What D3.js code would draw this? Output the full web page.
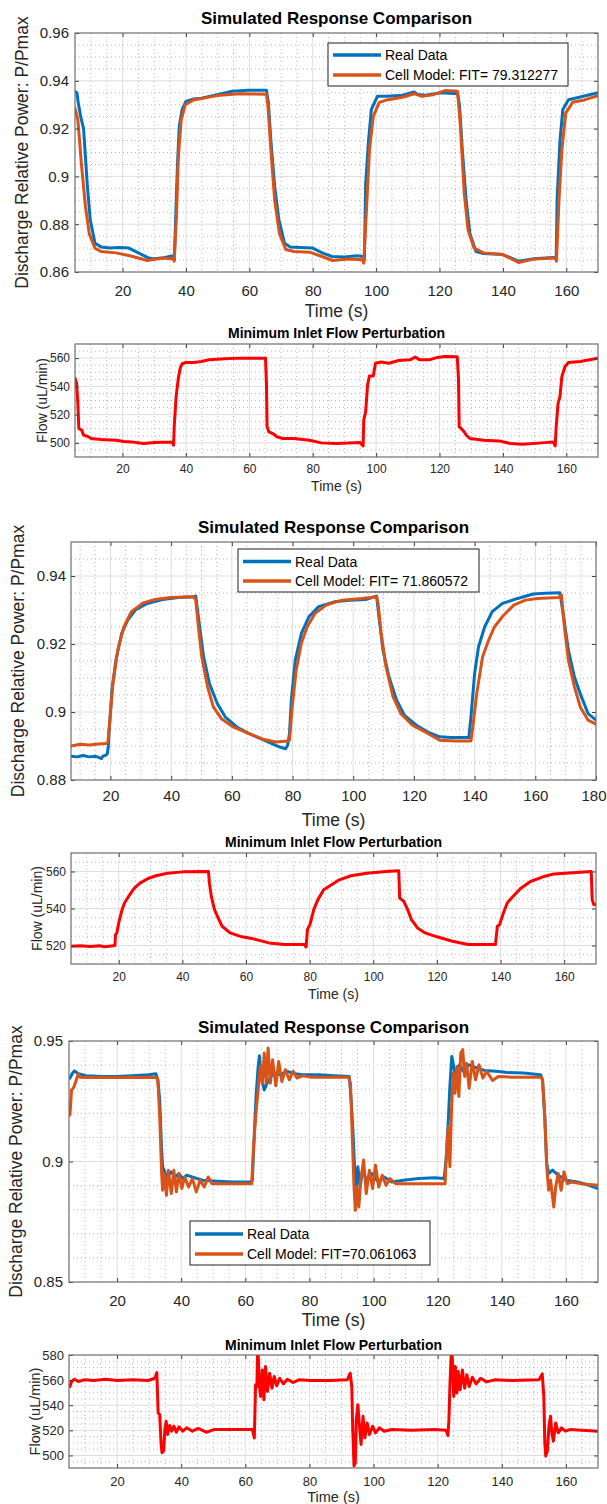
<!DOCTYPE html>
<html><head><meta charset="utf-8">
<script src="https://cdn.jsdelivr.net/npm/d3@7"></script>
<style>
body{margin:0;background:#fff}
svg{display:block}
text{font-family:"Liberation Sans",Arial,Helvetica,sans-serif}
</style>
</head><body>
<svg id="c" width="607" height="1504"></svg>
<script>
// ---------------- DATA ----------------
const seriesNames = ["Real Data", "Cell Model: FIT= 79.312277", "Cell Model: FIT= 71.860572", "Cell Model: FIT=70.061063"];
const mainTitle = "Simulated Response Comparison";
const flowTitle = "Minimum Inlet Flow Perturbation";
const xTicks160 = [20,40,60,80,100,120,140,160];
const xTicks180 = [20,40,60,80,100,120,140,160,180];
const yTicksP1 = [0.86,0.88,0.90,0.92,0.94,0.96];
const yTicksP3 = [0.88,0.90,0.92,0.94];
const yTicksP5 = [0.85,0.90,0.95];
const yTicksP2 = [500,520,540,560];
const yTicksP4 = [520,540,560];
const yTicksP6 = [500,520,540,560,580];

// Panel 1: power, [time s, P/Pmax]
const p1Real = [[5,0.9355],[5.6,0.935],[6.0,0.931],[6.8,0.925],[7.7,0.920],[8.9,0.896],[9.8,0.882],[11.3,0.872],[13.2,0.8705],[16,0.870],[19,0.8702],[22,0.8700],[25,0.868],[28,0.866],[30,0.8655],[33,0.866],[36,0.8668],[36.3,0.865],[36.6,0.876],[37.3,0.904],[37.9,0.921],[38.8,0.928],[40,0.9314],[42.4,0.9324],[44.9,0.9327],[49.8,0.9342],[54.6,0.9356],[59.5,0.936],[65.4,0.936],[66,0.931],[66.8,0.915],[68,0.8958],[69.3,0.882],[71.1,0.872],[72.9,0.8705],[76,0.8703],[80,0.870],[83,0.868],[86,0.8665],[90,0.8663],[94,0.8668],[96,0.8665],[96.3,0.865],[96.7,0.897],[97.6,0.915],[98.5,0.928],[100.4,0.9335],[103.4,0.9335],[108.3,0.934],[112,0.9353],[113.2,0.9343],[115.6,0.934],[120.5,0.935],[125.7,0.9346],[126.3,0.930],[127.2,0.911],[128.4,0.890],[129.6,0.876],[131.5,0.8686],[133.9,0.8677],[140,0.8673],[144.9,0.8645],[149.8,0.8655],[155.9,0.8661],[156.8,0.8655],[157.1,0.8903],[158,0.915],[158.9,0.928],[160.7,0.9321],[164.4,0.9332],[170,0.935]];
const p1Model = [[5,0.9286],[5.9,0.9237],[7.1,0.904],[8.3,0.8874],[9.5,0.876],[11.3,0.870],[13.2,0.8686],[18,0.868],[22.9,0.8666],[27.8,0.8648],[32.7,0.8659],[36,0.8654],[36.3,0.8645],[37,0.8833],[37.6,0.908],[38.5,0.9237],[39.8,0.930],[42.4,0.932],[49.8,0.9338],[57,0.9346],[65.4,0.9344],[65.9,0.929],[66.8,0.911],[68,0.890],[69.5,0.876],[71.5,0.8694],[74.1,0.8686],[79,0.8683],[82.7,0.8666],[86.3,0.8648],[91.2,0.8654],[95.7,0.8651],[96.1,0.8637],[97.1,0.890],[97.9,0.911],[99.1,0.9251],[101,0.931],[103.4,0.932],[108.3,0.9331],[112,0.9346],[114.4,0.9335],[118,0.9342],[121.7,0.9359],[125.7,0.9356],[126.6,0.9209],[127.8,0.893],[129,0.8776],[130.9,0.870],[133.9,0.868],[140,0.8673],[144.9,0.8640],[149.8,0.8654],[156.5,0.8659],[156.9,0.8645],[157.7,0.8903],[158.6,0.911],[159.8,0.9265],[162,0.931],[165.7,0.932],[170,0.9338]];

// Panel 2: flow, [time s, uL/min]
const p2Flow = [[5,545.8],[5.5,542.2],[5.9,528],[6.2,510.2],[7.1,509],[7.7,505.5],[8.9,504.7],[10.1,503.1],[13.2,502.4],[18,501.9],[20.5,501],[22.9,500.7],[26.6,499.5],[30.2,500.2],[35.7,500.7],[36.1,498.3],[36.3,511.4],[36.9,532.7],[37.6,545.8],[38.2,552.9],[38.8,556],[40,556.9],[42.4,556.9],[44.9,557.6],[47.3,558.8],[52.2,559.5],[57.1,560],[65.1,560],[65.4,542.2],[65.6,511.4],[66.2,507.8],[67.4,506.6],[68.7,504.3],[70.5,503.1],[74.1,503.1],[79,501.9],[82.7,500],[87.6,499.5],[94.9,500.2],[95.9,497.9],[96.1,516.1],[96.7,522.1],[97.3,541],[97.9,547.4],[99.1,547.4],[99.8,556.4],[101.6,557.2],[104,556.4],[107.1,558.3],[110.7,558.8],[112.3,560.7],[113.8,558.8],[116.8,558.8],[119.3,560.5],[121.7,561.2],[125.6,561],[126,544.6],[126.2,511.4],[126.8,510.2],[127.8,507.8],[128.4,505.5],[129.6,503.1],[133.9,501.9],[138.8,501.4],[142.5,499.5],[146.1,499],[152.2,500],[155.9,500.7],[156.5,497.9],[156.8,511.4],[157.4,528],[158,532.7],[158.6,547],[159.6,554.1],[160.7,556.9],[164.4,557.6],[170,560]];

// Panel 3: power
const p3Real = [[7,0.887],[9,0.8868],[11,0.8872],[13,0.8868],[15,0.887],[16.5,0.8865],[17,0.8863],[17.5,0.887],[18.6,0.8873],[19,0.8878],[19.3,0.890],[19.5,0.8937],[20.5,0.9064],[21.8,0.9153],[23.7,0.9231],[25.7,0.927],[28.2,0.930],[32.1,0.9319],[37.2,0.9331],[42.4,0.9337],[47.5,0.9339],[48.1,0.9341],[49.4,0.925],[50.7,0.9162],[52.6,0.9084],[55.2,0.9025],[57.8,0.8986],[61.6,0.8956],[65.5,0.8937],[70.6,0.8917],[75.8,0.8897],[77.7,0.8892],[78.4,0.8902],[79,0.8937],[79.6,0.9035],[80.9,0.9153],[82.9,0.9231],[85.4,0.928],[88.6,0.931],[93.8,0.9324],[98.9,0.9329],[104.1,0.9331],[107.7,0.9341],[108.6,0.927],[109.8,0.9182],[111.8,0.9103],[114.3,0.9035],[116.9,0.899],[120.8,0.8961],[124.6,0.8941],[128.5,0.8927],[132.3,0.8925],[138.1,0.8925],[138.8,0.8986],[140,0.9113],[141.3,0.9192],[143.3,0.925],[145.8,0.9295],[149.1,0.9319],[154.2,0.9334],[159.3,0.9347],[163.2,0.9349],[168.1,0.9351],[169,0.930],[170.9,0.9182],[172.9,0.9103],[174.8,0.9054],[177.4,0.8995],[180,0.8976]];
const p3Model = [[7,0.8900],[10,0.8905],[13,0.8903],[16,0.8906],[18.6,0.8907],[19.2,0.8912],[19.9,0.8986],[20.8,0.9084],[22.4,0.9182],[24.4,0.925],[26.9,0.9295],[30.8,0.9321],[34.7,0.9331],[39.8,0.9337],[47.5,0.9339],[48.1,0.9329],[49,0.925],[50.1,0.9162],[52,0.9074],[53.9,0.9015],[56.5,0.8981],[60.4,0.8956],[65.5,0.8937],[70.6,0.8919],[74.5,0.8912],[78.4,0.8915],[79,0.8917],[79.9,0.9015],[81.2,0.9123],[82.9,0.9202],[84.8,0.925],[87.4,0.929],[91.2,0.9315],[96.4,0.9329],[102.8,0.9334],[107.7,0.9339],[108.2,0.9319],[109.2,0.9231],[110.8,0.9133],[113.1,0.9045],[115.7,0.8995],[119.5,0.8961],[124.6,0.8937],[128.5,0.8917],[133.6,0.8915],[138.8,0.8915],[139.4,0.8956],[140.7,0.9054],[142.6,0.9162],[144.6,0.9211],[146.5,0.925],[149.1,0.928],[153,0.9315],[156.8,0.9329],[160.7,0.9334],[167.7,0.9337],[168.6,0.9344],[169.6,0.925],[170.9,0.9153],[172.9,0.9074],[174.8,0.9015],[177.4,0.8976],[180,0.8964]];

// Panel 4: flow
const p4Flow = [[5,519.6],[8,519.8],[11,519.5],[14,519.9],[15.5,519.3],[17,519.6],[18.8,520],[19,525.9],[19.4,526.8],[20,532.2],[20.9,538.5],[21.8,543],[23.1,546.5],[24.9,551],[26.7,553.7],[29.2,556.2],[31.7,557.7],[35.3,559.1],[40.2,559.8],[48.2,560],[48.5,553.7],[49.1,546.5],[50.1,539.4],[51,535.8],[52.5,530.4],[55,526.8],[58.7,524.7],[62.3,523.6],[67.2,521.4],[72.1,520.5],[78.3,520.5],[78.9,519.2],[79.3,528.6],[80.1,531.3],[81.3,539.4],[82.6,544.8],[84.4,550.1],[86.9,552.8],[89.3,555.5],[93,557.7],[97.9,559.1],[104,560],[108,560.4],[108.3,545.6],[109.6,543.9],[110.8,539.4],[112,534],[113.9,529.5],[116.3,526.8],[120,524.7],[124.9,522.3],[129.8,520.5],[138.4,520.5],[139,530.4],[139.7,531.3],[140.9,537.6],[142.1,543],[143.9,546.5],[146.4,551],[149.4,554.6],[153.1,557],[156.8,558.7],[160.3,559.1],[168.5,560],[168.8,544.8],[169.3,542.1],[170,542.1]];

// Panel 5: power
const p5Real = [[5.3,0.9346],[6.1,0.9367],[6.7,0.9376],[7.9,0.9364],[10.3,0.9356],[15.2,0.9353],[20,0.9353],[24.8,0.9356],[29.7,0.936],[32.1,0.9364],[32.7,0.9339],[33.3,0.9256],[33.8,0.9075],[34.2,0.8978],[35.1,0.895],[35.7,0.8936],[36.9,0.8957],[38.1,0.8936],[39.3,0.895],[40.5,0.8929],[41.7,0.8943],[44.1,0.8933],[46.6,0.8922],[51.4,0.8918],[56.2,0.8915],[61.6,0.8915],[62.2,0.8922],[62.8,0.9117],[63.4,0.9283],[64,0.9394],[64.4,0.9439],[64.9,0.9353],[65.9,0.9297],[66.8,0.9325],[67.7,0.9346],[68.9,0.9369],[70.7,0.936],[73.1,0.9374],[75.5,0.9364],[77.9,0.936],[82.8,0.936],[87.6,0.9356],[92.4,0.9353],[93,0.9256],[93.6,0.9117],[94.2,0.8936],[94.6,0.8894],[95.1,0.8978],[95.8,0.8894],[96.6,0.8964],[97.8,0.8922],[99.6,0.895],[101.4,0.8915],[103.3,0.8936],[105.7,0.8915],[109.3,0.8922],[114.1,0.8929],[119,0.8933],[122,0.8929],[122.6,0.9006],[123.2,0.9144],[123.8,0.9311],[124.4,0.9436],[125,0.9394],[125.6,0.9353],[126.8,0.9401],[128,0.9374],[129.8,0.9401],[132.2,0.9388],[134.6,0.9378],[138.2,0.9374],[141.8,0.9369],[146.7,0.9367],[152.1,0.936],[152.7,0.9339],[153.4,0.9186],[154,0.8992],[154.6,0.895],[155.8,0.8964],[157.6,0.8943],[160,0.8922],[163.6,0.8915],[167.2,0.8901],[170,0.8888]];
const p5Model = [[5.3,0.9193],[5.8,0.9297],[6.5,0.9308],[7.3,0.9339],[7.9,0.9364],[8.5,0.935],[10.3,0.9349],[20,0.9349],[32.1,0.935],[32.7,0.9339],[33.3,0.9186],[33.9,0.895],[34.2,0.8881],[34.7,0.895],[35.4,0.886],[36,0.8964],[36.9,0.8867],[37.7,0.8964],[38.5,0.8874],[39.3,0.895],[40.2,0.8888],[41.1,0.8936],[42.3,0.8894],[43.5,0.8929],[44.7,0.8874],[45.9,0.8922],[47.2,0.8894],[48.4,0.8936],[49.6,0.8908],[51.4,0.8908],[56.2,0.8908],[62,0.8908],[62.5,0.9047],[63,0.9144],[63.4,0.9214],[64,0.9297],[64.7,0.9394],[65.3,0.9325],[65.9,0.945],[66.5,0.9325],[67.1,0.9471],[67.8,0.9325],[68.5,0.9422],[69.5,0.9314],[70.4,0.9415],[71.4,0.9332],[72.5,0.9381],[73.7,0.9339],[74.9,0.9374],[76.1,0.9346],[77.9,0.9356],[80.3,0.935],[86.4,0.935],[92.2,0.935],[92.8,0.9325],[93.4,0.9089],[93.9,0.8894],[94.3,0.8797],[94.8,0.8894],[95.4,0.8811],[96,0.8922],[96.9,0.9006],[97.7,0.8867],[98.7,0.8964],[99.7,0.8888],[100.6,0.8985],[101.6,0.8894],[102.7,0.8943],[103.9,0.8901],[105.1,0.8929],[106.9,0.8908],[110.5,0.8908],[116.5,0.8908],[122.3,0.8908],[122.8,0.9047],[123.3,0.9144],[123.8,0.8978],[124.3,0.9214],[124.8,0.9367],[125.4,0.9283],[126,0.9394],[126.6,0.927],[127.2,0.945],[127.8,0.9464],[128.4,0.9353],[129,0.9408],[129.8,0.9304],[130.8,0.9415],[131.8,0.9339],[132.9,0.9401],[134.1,0.9346],[135.3,0.9374],[137.1,0.9336],[138.9,0.9353],[143.1,0.935],[152.1,0.935],[152.7,0.9339],[153.4,0.9186],[154,0.8978],[154.6,0.8881],[155.2,0.8922],[156.2,0.8811],[156.8,0.8894],[157.6,0.895],[158.5,0.8881],[159.4,0.8957],[160.4,0.8908],[161.8,0.8915],[164.8,0.8908],[170,0.8901]];

// Panel 6: flow
const p6Flow = [[5.3,554.9],[5.8,558.9],[6.7,560.7],[7.9,558.9],[9.7,560.2],[12.8,559.7],[16.4,560.7],[20,559.7],[24.8,560.2],[29.7,559.7],[31.8,561.5],[32.4,566],[32.8,533.8],[33.3,532.5],[33.7,510.1],[34,502.2],[34.5,503.5],[34.9,520.6],[35.3,527.2],[35.8,516.7],[36.4,523.8],[37,519.3],[37.7,523.3],[38.5,518.5],[39.3,522.8],[40.5,519.3],[41.7,522],[43.5,519.3],[45.3,521.5],[47.8,518.5],[50.2,520.6],[56.2,520.6],[62.2,520.6],[62.8,514],[63.2,556.3],[63.6,554.9],[63.8,580],[64,581.3],[64.4,554.9],[64.8,547],[65.3,568.1],[65.8,544.4],[66.3,570.8],[66.9,551],[67.6,565.5],[68.3,553.6],[69,562.9],[69.8,555.5],[70.7,561.5],[71.9,557],[73.1,560.7],[74.9,558.1],[76.7,560.2],[80.3,559.7],[86.4,559.7],[91.8,560.2],[92.7,565.5],[93.2,554.9],[93.5,520.6],[93.9,491.6],[94.3,494.2],[94.6,528.5],[95.1,540.4],[95.6,523.3],[96.1,508.8],[96.7,531.2],[97.3,514],[98,525.9],[98.7,516.7],[99.7,523.3],[100.6,518],[101.8,522],[103.3,519.3],[105.7,520.6],[111.7,520.1],[119,520.6],[122.6,520.1],[123.2,515.9],[123.5,528.5],[123.8,554.9],[124.2,580],[124.5,581.3],[125,547],[125.5,570.8],[126,549.7],[126.4,566.8],[127,552.3],[127.7,568.1],[128.4,553.6],[129.1,564.2],[129.8,554.9],[130.8,562.3],[132,557],[133.4,561.5],[135.3,558.6],[137.7,560.2],[143.1,559.7],[151.6,560.2],[152.6,565],[153.1,547],[153.4,510.1],[153.7,499.5],[154.2,503.5],[154.7,523.3],[155.2,531.2],[155.6,518],[156.1,511.4],[156.8,525.9],[157.6,518],[158.6,522],[159.8,519.3],[161.2,520.6],[170,519.3]];

// ---------------- DRAWING ----------------
const BLUE = "#0072BD", ORANGE = "#D95319", RED = "#FF0000";
const svg = d3.select("#c");
let clipId = 0;

function fmt(d){ return String(+d.toFixed(3)); }

function drawPanel(o){
  const g = svg.append("g");
  const x = d3.scaleLinear().domain(o.xd).range([o.l, o.r]);
  const y = d3.scaleLinear().domain(o.yd).range([o.b, o.t]);

  // minor grid
  const near = (v, arr) => arr.some(a => Math.abs(a - v) < 1e-9);
  const xMinor = d3.range(Math.ceil(o.xd[0]/o.xm)*o.xm, o.xd[1]+1e-9, o.xm).filter(v => !near(v, o.xt) && v > o.xd[0] && v < o.xd[1]);
  const yMinor = d3.range(0, 200).map(i => +(o.yd[0] + i*o.ym).toFixed(6)).filter(v => v < o.yd[1]-1e-9 && v > o.yd[0]+1e-9 && !near(v, o.yt));
  g.append("g").selectAll("line").data(xMinor).join("line")
    .attr("x1", d => x(d)).attr("x2", d => x(d)).attr("y1", o.t).attr("y2", o.b)
    .attr("stroke", "#b8b8b8").attr("stroke-width", 1).attr("stroke-dasharray", "1,3");
  g.append("g").selectAll("line").data(yMinor).join("line")
    .attr("x1", o.l).attr("x2", o.r).attr("y1", d => y(d)).attr("y2", d => y(d))
    .attr("stroke", "#b8b8b8").attr("stroke-width", 1).attr("stroke-dasharray", "1,3");
  // major grid
  g.append("g").selectAll("line").data(o.xt.filter(v => v > o.xd[0] && v < o.xd[1])).join("line")
    .attr("x1", d => x(d)).attr("x2", d => x(d)).attr("y1", o.t).attr("y2", o.b)
    .attr("stroke", "#dedede").attr("stroke-width", 1);
  g.append("g").selectAll("line").data(o.yt.filter(v => v > o.yd[0] && v < o.yd[1])).join("line")
    .attr("x1", o.l).attr("x2", o.r).attr("y1", d => y(d)).attr("y2", d => y(d))
    .attr("stroke", "#dedede").attr("stroke-width", 1);

  // data lines
  const cid = "clip" + (clipId++);
  svg.append("clipPath").attr("id", cid).append("rect")
    .attr("x", o.l).attr("y", o.t).attr("width", o.r - o.l).attr("height", o.b - o.t);
  const line = d3.line().x(d => x(d[0])).y(d => y(d[1]));
  const lg = g.append("g").attr("clip-path", `url(#${cid})`);
  o.series.forEach(s => {
    lg.append("path").datum(s.data).attr("d", line)
      .attr("fill", "none").attr("stroke", s.color).attr("stroke-width", s.w || 3)
      .attr("stroke-linejoin", "round").attr("stroke-linecap", "round");
  });

  // axes
  const axCol = "#404040";
  const ax = g.append("g").attr("color", axCol);
  const bottom = ax.append("g").attr("transform", `translate(0,${o.b})`)
    .call(d3.axisBottom(x).tickValues(o.xt).tickSizeInner(-4).tickSizeOuter(0).tickPadding(o.xPad).tickFormat(fmt));
  ax.append("g").attr("transform", `translate(${o.l},0)`)
    .call(d3.axisLeft(y).tickValues(o.yt).tickSizeInner(-4).tickSizeOuter(0).tickPadding(o.yPad).tickFormat(fmt));
  ax.append("g").attr("transform", `translate(0,${o.t})`)
    .call(d3.axisTop(x).tickValues(o.xt).tickSizeInner(-4).tickSizeOuter(0).tickFormat(""));
  ax.append("g").attr("transform", `translate(${o.r},0)`)
    .call(d3.axisRight(y).tickValues(o.yt).tickSizeInner(-4).tickSizeOuter(0).tickFormat(""));
  ax.selectAll(".domain").remove();
  ax.selectAll("text").attr("font-size", o.tick + "px").attr("fill", "#262626")
    .attr("font-family", '"Liberation Sans",Arial,sans-serif');
  // keep the last x tick label inside the canvas
  bottom.selectAll("text").filter(d => x(d) > 590).attr("text-anchor", "end").attr("dx", (606 - o.r) + "px");
  g.append("rect").attr("x", o.l).attr("y", o.t).attr("width", o.r - o.l).attr("height", o.b - o.t)
    .attr("fill", "none").attr("stroke", "#6e6e6e").attr("stroke-width", 1.2);

  // title & labels
  const cx = (o.l + o.r) / 2, cy = (o.t + o.b) / 2;
  g.append("text").attr("x", cx).attr("y", o.titleY).attr("text-anchor", "middle")
    .attr("font-size", o.titleSize + "px").attr("font-weight", "bold").attr("fill", "#000").text(o.title);
  g.append("text").attr("x", cx).attr("y", o.xLabY).attr("text-anchor", "middle")
    .attr("font-size", o.labSize + "px").attr("fill", "#262626").text("Time (s)");
  g.append("text").attr("transform", `translate(${o.yLabX},${cy}) rotate(-90)`)
    .attr("text-anchor", "middle").attr("dominant-baseline", "central")
    .attr("font-size", o.labSize + "px").attr("fill", "#262626").text(o.yLabel);

  // legend
  if (o.legend) {
    const L = o.legend;
    const lgG = g.append("g");
    lgG.append("rect").attr("x", L.x).attr("y", L.y).attr("width", L.w).attr("height", L.h)
      .attr("fill", "#fff").attr("stroke", "#333").attr("stroke-width", 1.1);
    L.items.forEach((it, i) => {
      const yy = L.y + L.row0 + i * L.dy;
      lgG.append("line").attr("x1", L.x + L.lx0).attr("x2", L.x + L.lx1).attr("y1", yy).attr("y2", yy)
        .attr("stroke", it.color).attr("stroke-width", 3.5);
      lgG.append("text").attr("x", L.x + L.tx).attr("y", yy).attr("dominant-baseline", "central")
        .attr("font-size", "14px").attr("fill", "#000").text(it.name);
    });
  }
}

const yLabelMain = "Discharge Relative Power: P/Pmax";
const yLabelFlow = "Flow (uL/min)";

drawPanel({l:75, r:598, t:33, b:272, xd:[5,170], yd:[0.86,0.96], xt:xTicks160, yt:yTicksP1, xm:5, ym:0.005,
  xPad:13, yPad:6, tick:15, title:mainTitle, titleY:24, titleSize:17, xLabY:317, yLabX:22, labSize:17.5, yLabel:yLabelMain,
  series:[{data:p1Real, color:BLUE},{data:p1Model, color:ORANGE}],
  legend:{x:328, y:43, w:240, h:43, row0:12, dy:20, lx0:5, lx1:53, tx:57,
    items:[{name:seriesNames[0], color:BLUE},{name:seriesNames[1], color:ORANGE}]}});

drawPanel({l:75, r:598, t:344, b:457, xd:[5,170], yd:[490,570], xt:xTicks160, yt:yTicksP2, xm:5, ym:5,
  xPad:7.5, yPad:5, tick:12, title:flowTitle, titleY:338, titleSize:14, xLabY:491, yLabX:42, labSize:14, yLabel:yLabelFlow,
  series:[{data:p2Flow, color:RED}]});

drawPanel({l:71, r:596, t:542, b:780, xd:[7,180], yd:[0.88,0.95], xt:xTicks180, yt:yTicksP3, xm:5, ym:0.005,
  xPad:10.5, yPad:5, tick:15, title:mainTitle, titleY:533, titleSize:17, xLabY:826, yLabX:18, labSize:17.5, yLabel:yLabelMain,
  series:[{data:p3Real, color:BLUE},{data:p3Model, color:ORANGE}],
  legend:{x:238, y:549, w:241, h:43, row0:12.5, dy:19.5, lx0:5, lx1:53, tx:57,
    items:[{name:seriesNames[0], color:BLUE},{name:seriesNames[2], color:ORANGE}]}});

drawPanel({l:71, r:596, t:853, b:964, xd:[5,170], yd:[510,570], xt:xTicks160, yt:yTicksP4, xm:5, ym:5,
  xPad:8.5, yPad:5, tick:12, title:flowTitle, titleY:847, titleSize:14, xLabY:999, yLabX:37, labSize:14, yLabel:yLabelFlow,
  series:[{data:p4Flow, color:RED}]});

drawPanel({l:69, r:598, t:1041, b:1282, xd:[5,170], yd:[0.85,0.95], xt:xTicks160, yt:yTicksP5, xm:5, ym:0.01,
  xPad:13, yPad:6, tick:15, title:mainTitle, titleY:1033, titleSize:17, xLabY:1326, yLabX:15.5, labSize:17.5, yLabel:yLabelMain,
  series:[{data:p5Real, color:BLUE},{data:p5Model, color:ORANGE}],
  legend:{x:190, y:1221, w:240, h:44, row0:13, dy:20, lx0:5, lx1:53, tx:57,
    items:[{name:seriesNames[0], color:BLUE},{name:seriesNames[3], color:ORANGE}]}});

drawPanel({l:69, r:598, t:1355, b:1468, xd:[5,170], yd:[490,580], xt:xTicks160, yt:yTicksP6, xm:5, ym:5,
  xPad:9, yPad:5, tick:13, title:flowTitle, titleY:1350, titleSize:14, xLabY:1502, yLabX:34.5, labSize:14.5, yLabel:yLabelFlow,
  series:[{data:p6Flow, color:RED}]});
</script>
</body></html>
